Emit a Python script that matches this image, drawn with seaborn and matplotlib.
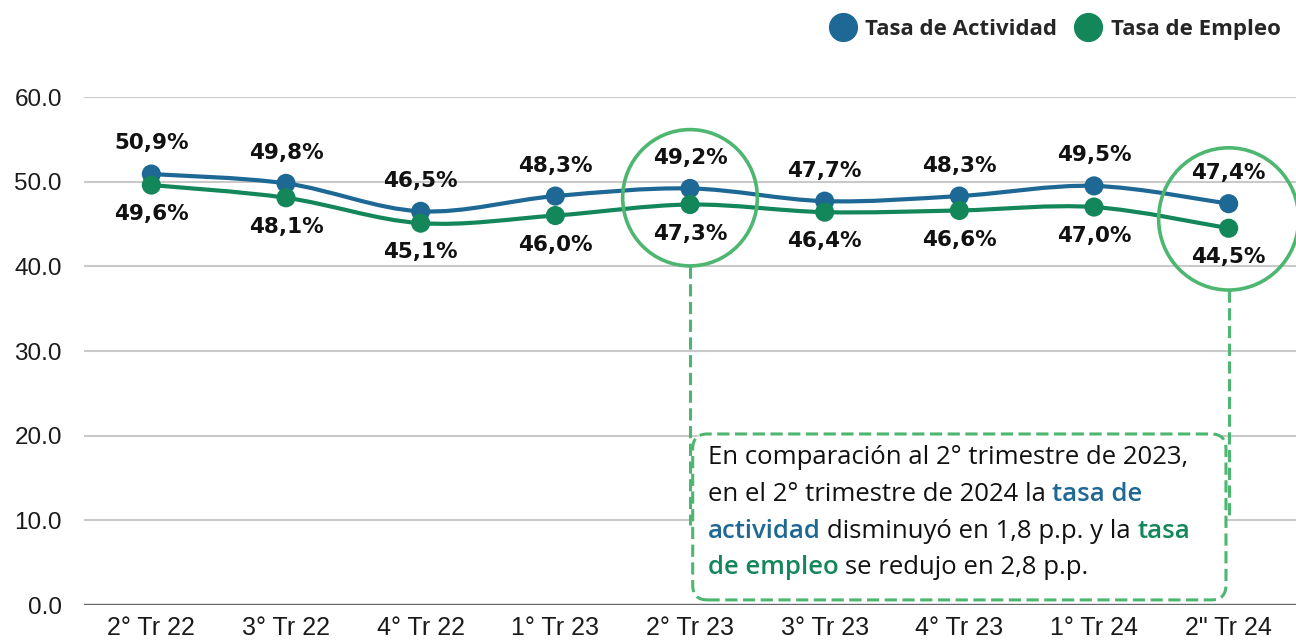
import numpy as np
import pandas as pd
import matplotlib
matplotlib.use("Agg")
import matplotlib.pyplot as plt
import seaborn as sns
from matplotlib.path import Path
from matplotlib.patches import PathPatch, Ellipse, FancyBboxPatch
from matplotlib.lines import Line2D
from matplotlib.font_manager import FontProperties
from matplotlib.offsetbox import TextArea, HPacker, VPacker, AnnotationBbox

# ---- data ----
quarters = ["2° Tr 22", "3° Tr 22", "4° Tr 22", "1° Tr 23", "2° Tr 23",
            "3° Tr 23", "4° Tr 23", "1° Tr 24", "2\" Tr 24"]
tasa_actividad = [50.9, 49.8, 46.5, 48.3, 49.2, 47.7, 48.3, 49.5, 47.4]
tasa_empleo = [49.6, 48.1, 45.1, 46.0, 47.3, 46.4, 46.6, 47.0, 44.5]
series_names = ["Tasa de Actividad", "Tasa de Empleo"]
y_ticks = [0, 10, 20, 30, 40, 50, 60]

BLUE = "#1e6896"
GREEN = "#13875a"
LIGHT_GREEN = "#4db670"

df = pd.DataFrame({
    "x": list(range(len(quarters))) * 2,
    "valor": tasa_actividad + tasa_empleo,
    "serie": [series_names[0]] * len(quarters) + [series_names[1]] * len(quarters),
})

sns.set_theme(style="white")
plt.rcParams["font.family"] = ["Liberation Sans", "DejaVu Sans"]

fig = plt.figure(figsize=(12.96, 6.41), dpi=100)
fig.patch.set_facecolor("white")

ax = fig.add_axes([84 / 1296, 36 / 641, 1212 / 1296, 508 / 641])
ax.set_facecolor("none")


def smooth_path(xs, ys):
    pts = np.column_stack([xs, ys])
    verts = [pts[0]]
    codes = [Path.MOVETO]
    n = len(pts)
    for i in range(n - 1):
        p0 = pts[max(i - 1, 0)]
        p1 = pts[i]
        p2 = pts[i + 1]
        p3 = pts[min(i + 2, n - 1)]
        c1 = p1 + (p2 - p0) / 6
        c2 = p2 - (p3 - p1) / 6
        verts += [c1, c2, p2]
        codes += [Path.CURVE4] * 3
    return Path(verts, codes)


xs = np.arange(len(quarters))
for vals, col in ((tasa_actividad, BLUE), (tasa_empleo, GREEN)):
    ax.add_patch(PathPatch(smooth_path(xs, vals), facecolor="none",
                           edgecolor=col, lw=3, zorder=3))

sns.scatterplot(data=df, x="x", y="valor", hue="serie",
                palette=[BLUE, GREEN], s=190, edgecolor="none",
                legend=False, ax=ax, zorder=4)

# data labels
for i, v in enumerate(tasa_actividad):
    ax.annotate(f"{v:.1f}%".replace(".", ","), (i, v), xytext=(0, 22),
                textcoords="offset points", ha="center", va="center",
                fontsize=15.5, fontweight="bold", family="DejaVu Sans",
                color="#111111", zorder=5)
for i, v in enumerate(tasa_empleo):
    ax.annotate(f"{v:.1f}%".replace(".", ","), (i, v), xytext=(0, -21),
                textcoords="offset points", ha="center", va="center",
                fontsize=15.5, fontweight="bold", family="DejaVu Sans",
                color="#111111", zorder=5)

# axes styling
ax.set_xlim(-0.5, 8.5)
ax.set_ylim(0, 60)
ax.set_yticks(y_ticks)
ax.set_yticklabels([f"{t:.1f}" for t in y_ticks])
ax.set_xticks(xs)
ax.set_xticklabels(quarters)
ax.tick_params(axis="y", length=0, pad=16, labelsize=17.5, labelcolor="#1a1a1a")
ax.tick_params(axis="x", length=0, pad=8, labelsize=18, labelcolor="#1a1a1a")
ax.set_xlabel("")
ax.set_ylabel("")
for s in ax.spines.values():
    s.set_visible(False)
ax.grid(axis="y", color="#c9c9c9", lw=1.5)
ax.grid(axis="x", visible=False)
ax.set_axisbelow(True)
ax.axhline(0, color="#666666", lw=2.4, zorder=2)

# highlight circles
ax.add_patch(Ellipse((4, 48.1), 1.0, 16.1, facecolor="none",
                     edgecolor=LIGHT_GREEN, lw=2.6, zorder=6))
ax.add_patch(Ellipse((8, 45.6), 1.04, 16.8, facecolor="none",
                     edgecolor=LIGHT_GREEN, lw=2.6, zorder=6, clip_on=False))

# dashed connectors and box
dash = (0, (4, 1.8))
ax.plot([4, 4], [40.0, 9.5], color=LIGHT_GREEN, lw=2.2, ls=dash, zorder=6)
ax.plot([8, 8], [37.2, 10.5], color=LIGHT_GREEN, lw=2.2, ls=dash, zorder=6)
ax.add_patch(FancyBboxPatch((4.02, 0.6), 3.96, 19.6,
                            boxstyle="round,pad=0,rounding_size=0.11",
                            mutation_aspect=15.96, facecolor="white",
                            edgecolor=LIGHT_GREEN, lw=2.2, ls=dash,
                            zorder=5))

# box text with mixed colours
fs = 18.5
reg = dict(family="Open Sans", size=fs, color="#111111")
blu = dict(family="Open Sans", size=fs, color=BLUE, fontweight="semibold")
grn = dict(family="Open Sans", size=fs, color=GREEN, fontweight="semibold")
sp = 4.9
lines = [
    HPacker(children=[TextArea("En comparación al 2° trimestre de 2023,", textprops=reg)],
            sep=0, pad=0),
    HPacker(children=[TextArea("en el 2° trimestre de 2024 la", textprops=reg),
                      TextArea("tasa de", textprops=blu)], sep=sp, pad=0),
    HPacker(children=[TextArea("actividad", textprops=blu),
                      TextArea("disminuyó en 1,8 p.p. y la", textprops=reg),
                      TextArea("tasa", textprops=grn)], sep=sp, pad=0),
    HPacker(children=[TextArea("de empleo", textprops=grn),
                      TextArea("se redujo en 2,8 p.p.", textprops=reg)], sep=sp, pad=0),
]
block = VPacker(children=lines, align="left", sep=8.5, pad=0)
ab = AnnotationBbox(block, (4.13, 18.9), xycoords="data", box_alignment=(0, 1),
                    frameon=False, pad=0, zorder=7)
ax.add_artist(ab)

# legend
handles = [Line2D([], [], marker="o", ls="", color=BLUE, markersize=20),
           Line2D([], [], marker="o", ls="", color=GREEN, markersize=20)]
fig.legend(handles, series_names, loc="upper right", bbox_to_anchor=(1.0, 0.995),
           ncol=2, frameon=False, borderaxespad=0.3,
           prop=FontProperties(family="Open Sans", weight="bold", size=16),
           handletextpad=0.4, columnspacing=0.8, handlelength=1.2)

fig.savefig("out.png", dpi=100)
